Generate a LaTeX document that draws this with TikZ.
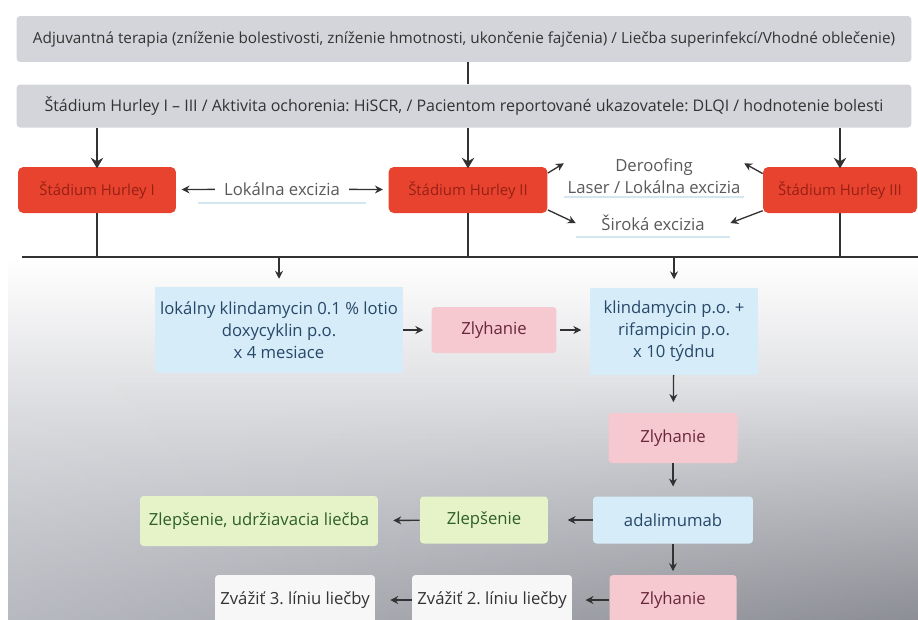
\documentclass[tikz,border=0pt]{standalone}
\usepackage{fontspec}
\setmainfont{Open Sans}
\frenchspacing
\usetikzlibrary{arrows.meta, positioning, calc, fadings}
\definecolor{hgrey}{RGB}{212,213,218}
\definecolor{hred}{RGB}{232,67,47}
\definecolor{hredtxt}{RGB}{150,32,20}
\definecolor{hblue}{RGB}{214,236,248}
\definecolor{hbluetxt}{RGB}{40,72,105}
\definecolor{hpink}{RGB}{246,200,208}
\definecolor{hpinktxt}{RGB}{105,40,55}
\definecolor{hgreen}{RGB}{230,242,200}
\definecolor{hgreentxt}{RGB}{45,95,40}
\definecolor{hline}{RGB}{50,50,50}
\definecolor{hunder}{RGB}{212,230,240}
\definecolor{bgmid}{RGB}{216,217,221}
\definecolor{bgbot}{RGB}{170,172,180}

\begin{document}
\begin{tikzpicture}[x=0.02cm, y=-0.02cm,
  every node/.style={font=\fontsize{9.5}{12.5}\selectfont, align=center, inner sep=2pt},
  bar/.style={fill=hgrey, text=black!80, minimum width=17.9cm, rounded corners=2pt},
  stage/.style={fill=hred, text=hredtxt, minimum height=0.92cm, rounded corners=3pt,
    font=\fontsize{8.5}{10}\selectfont},
  drug/.style={fill=hblue, text=hbluetxt},
  fail/.style={fill=hpink, text=hpinktxt, rounded corners=2pt},
  good/.style={fill=hgreen, text=hgreentxt, rounded corners=2pt},
  next/.style={fill=black!3, text=black!80, rounded corners=2pt},
  surg/.style={text=black!65},
  under/.style={hunder, line width=1pt},
  link/.style={hline, line width=1.1pt},
  bigarr/.style={hline, line width=1.1pt, -{Stealth[length=6pt,width=7pt]}},
  arr/.style={hline, line width=0.75pt, -{Stealth[length=4.5pt,width=4.5pt]}, shorten >=4.5pt}
]
  \useasboundingbox (0,0) rectangle (918,619);
  \clip (0,0) rectangle (918,619);
  \fill[white] (0,0) rectangle (918,619);
  \shade[top color=white, middle color=bgmid, bottom color=bgbot] (8,257) rectangle (918,619);
  \shade[left color=white, right color=black, opacity=0.17, path fading=north] (8,380) rectangle (918,619);

  % common frame
  \node[bar, minimum height=0.92cm, font=\fontsize{8.7}{10}\selectfont] (adj) at (464,39)
    {Adjuvantná terapia (zníženie bolestivosti, zníženie hmotnosti, ukončenie fajčenia) / Liečba superinfekcí/Vhodné oblečenie)};
  \node[bar, minimum height=0.86cm, font=\fontsize{9.1}{10}\selectfont] (hur) at (464,106)
    {Štádium Hurley I – III / Aktivita ochorenia: HiSCR, / Pacientom reportované ukazovatele: DLQI / hodnotenie bolesti};

  % stages
  \node[stage, minimum width=3.16cm] (st1) at (97,190) {Štádium Hurley I};
  \node[stage, minimum width=3.18cm] (st2) at (468,190) {Štádium Hurley II};
  \node[stage, minimum width=3.08cm] (st3) at (840,190) {Štádium Hurley III};

  % surgery
  \node[surg] (lok) at (282,189) {Lokálna excizia};
  \node[surg, minimum width=3.24cm, minimum height=0.84cm] (der) at (654,176) {Deroofing\\Laser / Lokálna excizia};
  \node[surg, minimum width=3.08cm, minimum height=0.56cm] (sir) at (653,223) {Široká excizia};
  \draw[under] ([xshift=-0.45cm,yshift=-2pt]lok.south west) -- ([xshift=0.45cm,yshift=-2pt]lok.south east);
  \foreach \s in {der,sir}
    \draw[under] (\s.south west) -- (\s.south east);

  \coordinate (busL) at (22,257);
  \coordinate (busR) at (918,257);
  \draw[hline, line width=1.5pt] (busL) -- (busR);
  \draw[link] (adj.south -| st2) -- (hur.north -| st2);
  \foreach \s in {st1,st2,st3} {
    \draw[bigarr] (hur.south -| \s) -- ([yshift=-1pt]\s.north);
    \draw[link] (\s.south) -- (\s |- busL);
  }
  \draw[arr, shorten <=3pt, shorten >=3pt] (lok) -- (st1);
  \draw[arr, shorten <=3pt, shorten >=3pt] (lok) -- (st2);
  \draw[arr, shorten >=0pt] (st2.12) -- (der.172);
  \draw[arr, shorten >=0pt] (st2.-14) -- (sir.west);
  \draw[arr, shorten >=0pt] (st3.168) -- (der.8);
  \draw[arr, shorten >=0pt] (st3.195) -- (sir.east);

  % treatment
  \node[drug, minimum width=4.96cm, minimum height=1.72cm] (topi) at (279,330)
    {lokálny klindamycin 0.1 \% lotio\\doxycyklin p.o.\\x 4 mesiace};
  \node[fail, minimum width=2.5cm, minimum height=0.92cm] (fail1) at (494,330) {Zlyhanie};
  \node[drug, minimum width=3.38cm, minimum height=1.74cm] (clin) at (674,331)
    {klindamycin p.o. +\\rifampicin p.o.\\x 10 týdnu};
  \node[fail, minimum width=2.58cm, minimum height=1cm] (fail2) at (673,438) {Zlyhanie};
  \node[drug, minimum width=3.2cm, minimum height=0.94cm, rounded corners=2pt] (adal) at (673,520) {adalimumab};
  \node[good, minimum width=2.56cm, minimum height=0.94cm] (impr) at (484,520) {Zlepšenie};
  \node[good, minimum width=4.76cm, minimum height=1cm] (maint) at (259,521) {Zlepšenie, udržiavacia liečba};
  \node[fail, minimum width=2.54cm, minimum height=1cm] (fail3) at (673,600) {Zlyhanie};
  \node[next, minimum width=3.2cm, minimum height=1cm] (line2) at (492,600) {Zvážiť 2. líniu liečby};
  \node[next, minimum width=3.2cm, minimum height=1cm] (line3) at (295,600) {Zvážiť 3. líniu liečby};

  \draw[arr] (topi |- busL) -- (topi.north);
  \draw[arr] (clin |- busL) -- (clin.north);
  \draw[arr] (topi.east) -- (topi.east -| fail1.west);
  \draw[arr, shorten <=2pt] (fail1.east) -- (fail1.east -| clin.west);
  \draw[arr, shorten >=6pt] (clin) -- (fail2);
  \draw[arr, shorten >=5.5pt] (fail2) -- (adal);
  \draw[arr, shorten >=11pt] (adal) -- (impr);
  \draw[arr, shorten >=8.5pt] (impr) -- (maint);
  \draw[arr, shorten >=2pt] (adal) -- (fail3);
  \draw[arr, shorten >=7.5pt] (fail3) -- (line2);
  \draw[arr, shorten >=8.5pt] (line2) -- (line3);
\end{tikzpicture}
\end{document}
